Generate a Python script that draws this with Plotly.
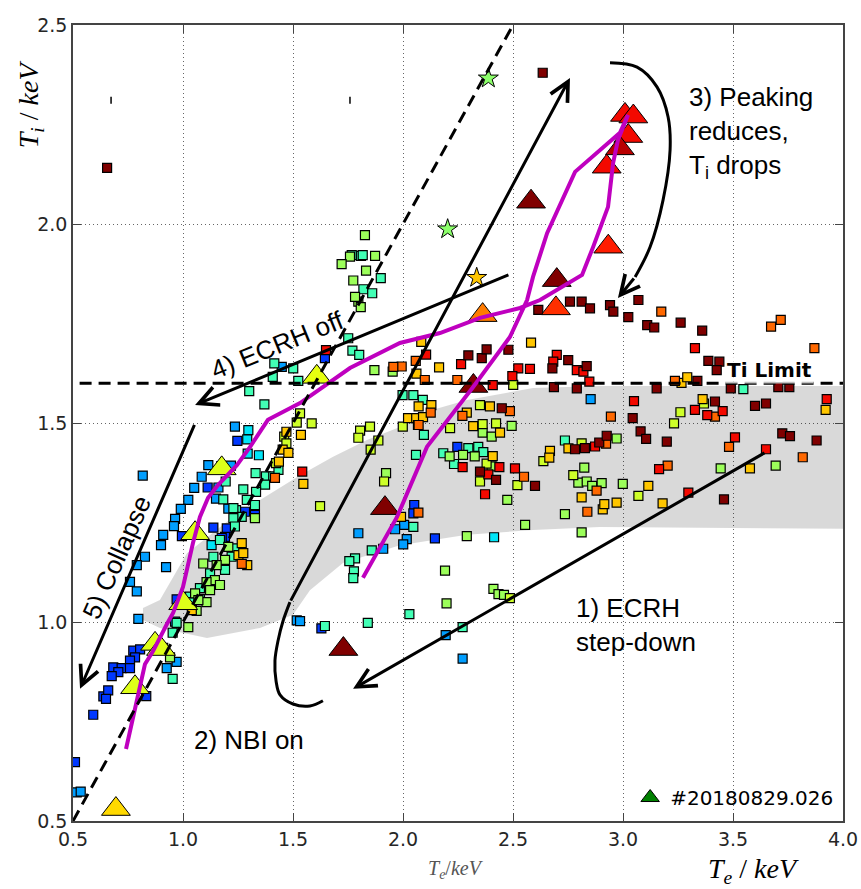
import numpy as np
import plotly.graph_objects as go

# ---------------- data (Te, Ti in keV) ----------------
SQ_BLUE_TE = [1.645,1.247,1.112,0.995,1.282,1.327,1.199,1.191,1.138,0.971,0.774,0.805,0.782,0.759,0.683,0.721,0.706,0.759,0.676,0.638,0.660,0.650,0.592,0.509,0.833,2.051,2.047,2.145,2.247,1.629,1.176]
SQ_BLUE_TI = [1.663,1.455,1.338,1.216,1.277,1.269,1.235,1.214,1.237,1.057,0.928,0.931,0.911,0.903,0.886,0.884,0.874,0.884,0.864,0.813,0.828,0.807,0.767,0.648,0.814,1.294,1.273,1.210,1.440,0.984,1.211]

SQ_LBLUE_TE = [0.817,1.236,1.085,1.051,1.024,0.990,0.964,0.959,0.910,0.900,0.923,1.161,1.150,1.206,1.173,1.218,0.964,1.517,0.797,0.790,0.517,0.535,0.926,0.971,1.532,2.194,2.271,2.005,1.964,1.797,2.017,2.001,1.910,2.853,0.827,0.790,0.759,1.115,1.449]
SQ_LBLUE_TI = [1.368,1.491,1.365,1.337,1.307,1.284,1.259,1.241,1.219,1.193,1.138,1.338,1.310,1.285,1.391,1.393,1.001,1.004,1.008,1.077,0.572,0.574,0.884,0.900,1.002,0.967,0.908,1.244,1.233,1.223,1.208,1.195,1.184,1.560,1.164,1.143,1.101,1.394,1.641]

SQ_CYAN_TE = [2.414,1.297,1.292,1.294,1.345,1.130]
SQ_CYAN_TI = [1.213,1.482,1.459,1.423,1.419,1.193]

SQ_TURQ_TE = [1.809,1.767,1.817,1.899,1.820,1.860,1.751,1.770,1.801,1.415,
              1.501,1.408,1.524,1.301,1.370,1.998,2.047,2.090,1.194,1.183,
              1.241,1.274,1.330,1.377,1.410,1.373,1.434,1.332,1.290,1.327,
              1.229,1.267,1.229,1.236,1.168,1.236,1.221,1.138,1.191,1.123,
              1.077,1.032,1.040,1.077,0.971,0.953,0.910,0.953,1.645,1.840,
              2.029,2.271,2.095,2.059,2.183,2.297,2.342,2.365,2.232,2.047,
              1.858,1.782,1.756,1.777,1.774,3.547,2.736]
SQ_TURQ_TI = [1.920,1.922,1.922,1.864,1.836,1.826,1.713,1.682,1.671,1.650,
              1.637,1.616,1.606,1.580,1.547,1.570,1.570,1.558,1.353,1.308,
              1.281,1.333,1.374,1.366,1.366,1.345,1.382,1.327,1.307,1.294,
              1.286,1.264,1.261,1.240,1.206,1.185,1.164,1.164,1.131,1.122,
              1.085,1.064,1.050,1.058,0.998,0.973,0.935,0.857,0.990,0.998,
              1.020,0.987,1.470,1.420,1.424,1.437,1.440,1.427,1.397,1.239,
              1.180,1.160,1.153,1.127,1.110,1.585,1.456]

SQ_GREEN_TE = [1.827,1.759,1.721,1.873,1.832,1.774,1.797,1.808,1.782,1.870,
               1.953,1.327,1.206,1.191,1.153,1.092,1.145,1.107,1.168,1.123,
               1.055,1.107,1.070,1.062,1.024,0.941,2.198,2.411,2.434,2.459,
               2.362,2.403,2.494,2.212,2.273,2.326,2.403,2.474,2.555,2.290,
               2.191,1.923,2.971,2.824,2.797,2.835,2.860,2.903,2.736,2.999,
               3.444,3.694,2.812]
SQ_GREEN_TI = [1.972,1.918,1.899,1.920,1.883,1.858,1.805,1.791,1.817,1.633,
               1.629,1.261,1.189,1.156,1.143,1.147,1.105,1.100,1.093,1.080,
               1.072,1.050,1.055,1.028,0.987,0.911,1.047,1.083,1.070,1.068,
               1.476,1.466,1.493,1.416,1.420,1.416,1.391,1.307,1.244,1.216,
               1.129,1.374,1.461,1.388,1.350,1.353,1.342,1.349,1.271,1.347,
               1.386,1.393,1.225]

SQ_YGREEN_TE = [1.532,1.585,1.517,1.460,1.470,1.423,1.623,2.501,1.850,1.805,
                1.797,1.888,1.853,1.999,2.214,2.362,2.350,2.423,2.520,2.350,
                1.914,2.486,2.774,2.812,3.070,3.261,3.232,3.368,2.638,2.380,
                1.009]
SQ_YGREEN_TI = [1.524,1.499,1.501,1.466,1.449,1.399,1.291,1.596,1.491,1.481,
                1.463,1.456,1.433,1.491,1.487,1.497,1.545,1.499,1.344,1.353,
                1.353,1.060,1.369,1.449,1.317,1.527,1.499,1.549,1.404,1.398,
                1.043]

SQ_YELLOW_TE = [1.436,1.453,1.479,1.536,1.470,1.267,1.252,1.274,1.292,1.547,
                2.083,2.061,2.164,2.071,2.129,2.023,2.060,2.091,2.068,2.319,
                2.395,2.290,2.441,2.582,2.408,1.991,3.266,3.292,3.362,2.752,
                2.812,2.908,2.915,2.971,3.115,3.180,3.577,3.921,2.668,2.665,
                1.040]
SQ_YELLOW_TI = [1.403,1.433,1.425,1.470,1.478,1.198,1.168,1.173,1.143,1.347,
                1.704,1.624,1.640,1.542,1.545,1.512,1.512,1.515,1.495,1.492,
                1.542,1.526,1.476,1.702,1.417,1.264,1.601,1.615,1.560,1.436,
                1.313,1.283,1.296,1.300,1.342,1.298,1.386,1.533,1.430,1.413,
                1.030]

SQ_ORANGE_TE = [1.994,1.956,1.418,1.267,2.058,2.099,2.126,2.071,2.247,2.270,
                2.486,2.550,2.070,3.174,3.673,3.717,3.236,3.418,3.482,2.923,
                2.880,2.838,3.203,3.817,2.945,3.870]
SQ_ORANGE_TI = [1.642,1.641,1.362,1.146,1.656,1.608,1.526,1.495,1.608,1.518,
                1.530,1.365,1.275,1.780,1.742,1.759,1.606,1.516,1.440,1.448,
                1.330,1.277,1.393,1.414,1.516,1.688]

SQ_RED_TE = [1.650,2.105,2.264,2.408,2.524,2.577,2.497,2.699,2.683,2.790,
             2.820,2.847,3.327,3.050,3.327,3.383,3.453,3.509,2.873,3.164,
             3.297,3.650,3.926,2.271,2.438,2.388,2.509,2.373,1.542]
SQ_RED_TI = [1.683,1.672,1.648,1.595,1.637,1.636,1.618,1.671,1.654,1.633,
             1.629,1.604,1.688,1.555,1.533,1.520,1.530,1.464,1.441,1.384,
             1.325,1.434,1.560,1.389,1.389,1.371,1.386,1.321,1.378]

SQ_DRED_TE = [0.655,2.635,2.297,2.358,2.380,2.479,2.615,2.759,2.812,2.850,
              2.941,2.956,3.070,3.024,3.110,3.142,3.262,3.360,2.751,2.835,
              2.679,2.686,2.790,3.153,3.338,3.388,3.438,3.426,3.490,3.706,
              3.756,3.044,3.418,3.600,3.650,2.782,2.827,2.892,2.926,3.080,
              3.105,3.199,3.724,3.759,3.880,3.459,2.350,2.423,2.600,2.449]
SQ_DRED_TI = [2.141,2.380,1.670,1.663,1.685,1.684,1.784,1.805,1.805,1.788,
              1.796,1.780,1.809,1.766,1.746,1.740,1.752,1.732,1.658,1.643,
              1.637,1.590,1.587,1.587,1.606,1.656,1.654,1.633,1.587,1.590,
              1.590,1.512,1.554,1.543,1.549,1.434,1.437,1.451,1.468,1.479,
              1.460,1.453,1.474,1.467,1.456,1.308,1.378,1.357,1.342,1.537]

# colour value (jet) of each square group
SQ_GROUPS = [
    (SQ_BLUE_TE, SQ_BLUE_TI, 0.18),
    (SQ_LBLUE_TE, SQ_LBLUE_TI, 0.28),
    (SQ_CYAN_TE, SQ_CYAN_TI, 0.35),
    (SQ_TURQ_TE, SQ_TURQ_TI, 0.43),
    (SQ_GREEN_TE, SQ_GREEN_TI, 0.54),
    (SQ_YGREEN_TE, SQ_YGREEN_TI, 0.60),
    (SQ_YELLOW_TE, SQ_YELLOW_TI, 0.70),
    (SQ_ORANGE_TE, SQ_ORANGE_TI, 0.80),
    (SQ_RED_TE, SQ_RED_TI, 0.90),
    (SQ_DRED_TE, SQ_DRED_TI, 1.00),
]

STAR_TE = [2.388, 2.203, 2.335]
STAR_TI = [2.366, 1.987, 1.865]
STAR_C = [0.52, 0.52, 0.70]

TRI_TE = [3.009,3.047,3.024,2.986,2.926,2.933,2.699,2.582,2.695,2.362,2.320,1.918,1.729,1.608,1.176,1.055,1.001,0.873,0.900,0.782,0.695]
TRI_TI = [2.274,2.270,2.221,2.190,2.144,1.943,1.859,2.056,1.788,1.771,1.593,1.286,0.932,1.616,1.386,1.223,1.047,0.945,0.932,0.836,0.530]
TRI_C  = [0.90,0.90,0.90,0.95,0.90,0.88,1.00,1.00,0.86,0.78,1.00,1.00,1.00,0.63,0.62,0.62,0.62,0.62,0.62,0.62,0.68]

MARK_TE = [0.673, 1.759]
MARK_TI = [2.311, 2.311]

# magenta trajectory
TRAJ_TE = [1.818,1.973,2.109,2.318,2.486,2.564,2.591,2.655,2.782,2.986,3.023,
           2.977,2.955,2.932,2.864,2.814,2.623,2.532,2.350,2.168,1.986,1.759,
           1.532,1.386,1.305,1.245,1.159,1.114,1.077,1.045,1.000,0.955,0.927,
           0.864,0.827,0.791,0.741]
TRAJ_TI = [1.111,1.264,1.440,1.590,1.716,1.809,1.867,1.977,2.131,2.229,2.274,
           2.211,2.153,2.043,1.942,1.872,1.809,1.789,1.764,1.726,1.701,1.638,
           1.550,1.508,1.440,1.394,1.344,1.312,1.264,1.198,1.088,1.023,0.995,
           0.927,0.894,0.807,0.681]

# grey band
BAND_TE = [0.818,0.895,1.018,1.227,1.532,1.682,1.836,1.986,2.136,2.291,2.591,2.895,4.0,
           4.0,2.895,2.591,2.291,1.986,1.727,1.577,1.500,1.350,1.109,0.895,0.818]
BAND_TI = [1.035,1.055,1.173,1.264,1.369,1.415,1.457,1.490,1.533,1.558,1.588,1.593,1.593,
           1.234,1.239,1.231,1.219,1.193,1.148,1.080,1.018,0.985,0.960,0.985,1.005]

TI_LIMIT = 1.6
LIMIT_TE = [0.53, 4.0]
EQ_LINE = [0.5, 2.5]

# curved arrow bodies
CURVE2_TE = [1.636,1.577,1.500,1.441,1.423,1.418,1.432,1.455,1.486]
CURVE2_TI = [0.802,0.789,0.794,0.817,0.852,0.903,0.953,1.003,1.050]
CURVE3_TE = [2.941,3.064,3.155,3.205,3.214,3.182,3.123,3.055]
CURVE3_TI = [2.405,2.394,2.344,2.269,2.186,2.060,1.942,1.867]

# arrows: (tail_te, tail_ti, head_te, head_ti)
ARROWS = [
    (3.650, 1.427, 1.773, 0.832),
    (1.486, 1.050, 2.759, 2.367),
    (3.055, 1.867, 2.977, 1.814),
    (2.486, 1.874, 1.055, 1.545),
    (1.055, 1.499, 0.532, 0.832),
]

# text labels: (text, te, ti, angle, xanchor)
LABELS = [
    ("1) ECRH<br>step-down", 2.777, 0.992, 0, "left"),
    ("2) NBI on", 1.041, 0.704, 0, "left"),
    ("3) Peaking<br>reduces,<br>T<sub>i</sub> drops", 3.291, 2.229, 0, "left"),
    ("4) ECRH off", 1.427, 1.697, -22, "center"),
    ("5) Collapse", 0.700, 1.163, -66, "center"),
]

X_TICKS = [0.5, 1.0, 1.5, 2.0, 2.5, 3.0, 3.5, 4.0]
Y_TICKS = [0.5, 1.0, 1.5, 2.0, 2.5]


def jet(v):
    r = np.interp(v, [0, 0.35, 0.66, 0.89, 1], [0, 0, 1, 1, 0.5])
    g = np.interp(v, [0, 0.125, 0.375, 0.64, 0.91, 1], [0, 0, 1, 1, 0, 0])
    b = np.interp(v, [0, 0.11, 0.34, 0.65, 1], [0.5, 1, 1, 0, 0])
    return "rgb(%d,%d,%d)" % (round(r * 255), round(g * 255), round(b * 255))


fig = go.Figure()

# grey band
fig.add_trace(go.Scatter(x=BAND_TE, y=BAND_TI, mode="lines", fill="toself",
                         fillcolor="rgba(0,0,0,0.15)", line=dict(width=0),
                         showlegend=False, hoverinfo="skip"))

# squares
for te, ti, cv in SQ_GROUPS:
    fig.add_trace(go.Scatter(x=te, y=ti, mode="markers", showlegend=False,
                             marker=dict(symbol="square", size=9, color=jet(cv),
                                         line=dict(color="black", width=1.2))))

# tiny marks
fig.add_trace(go.Scatter(x=MARK_TE, y=MARK_TI, mode="markers", showlegend=False,
                         marker=dict(symbol="line-ns", size=5,
                                     line=dict(color="black", width=1.5))))

# stars
fig.add_trace(go.Scatter(x=STAR_TE, y=STAR_TI, mode="markers", showlegend=False,
                         marker=dict(symbol="star", size=15, color=[jet(c) for c in STAR_C],
                                     line=dict(color="black", width=1))))

# triangles
fig.add_trace(go.Scatter(x=TRI_TE, y=TRI_TI, mode="markers", showlegend=False,
                         marker=dict(symbol="triangle-up", size=25, color=[jet(c) for c in TRI_C],
                                     line=dict(color="black", width=1))))

# magenta trajectory
fig.add_trace(go.Scatter(x=TRAJ_TE, y=TRAJ_TI, mode="lines", showlegend=False,
                         line=dict(color="#bf00bf", width=4)))

# dashed lines
fig.add_trace(go.Scatter(x=EQ_LINE, y=EQ_LINE, mode="lines", showlegend=False,
                         line=dict(color="black", width=3, dash="12px,7px")))
fig.add_trace(go.Scatter(x=LIMIT_TE, y=[TI_LIMIT, TI_LIMIT], mode="lines", showlegend=False,
                         line=dict(color="black", width=3, dash="12px,7px")))

# curved arrow bodies
for cx, cy in [(CURVE2_TE, CURVE2_TI), (CURVE3_TE, CURVE3_TI)]:
    fig.add_trace(go.Scatter(x=cx, y=cy, mode="lines", showlegend=False,
                             line=dict(color="black", width=3, shape="spline")))

# legend entry
fig.add_trace(go.Scatter(x=[None], y=[None], mode="markers", name="#20180829.026",
                         marker=dict(symbol="triangle-up", size=24, color="green",
                                     line=dict(color="black", width=1))))

annotations = []
for tx, ty, hx, hy in ARROWS:
    annotations.append(dict(x=hx, y=hy, ax=tx, ay=ty, xref="x", yref="y",
                            axref="x", ayref="y", text="", showarrow=True,
                            arrowhead=5, arrowsize=1.25, arrowwidth=3,
                            arrowcolor="black", standoff=0, startstandoff=0))

for text, tx, ty, ang, xa in LABELS:
    annotations.append(dict(x=tx, y=ty, xref="x", yref="y", text=text, showarrow=False,
                            textangle=ang, xanchor=xa, yanchor="middle", align="left",
                            font=dict(family="Liberation Sans", size=26, color="black")))

annotations.append(dict(x=3.668, y=1.633, xref="x", yref="y", text="<b>Ti Limit</b>",
                        showarrow=False, bgcolor="rgba(255,255,255,0.75)",
                        xanchor="center", yanchor="middle",
                        font=dict(family="DejaVu Sans", size=20, color="black")))

# axis labels
annotations.append(dict(x=-0.055, y=0.9, xref="paper", yref="paper",
                        xanchor="center", yanchor="middle",
                        text="<i>T<sub>i</sub></i> / <i>keV</i>", textangle=-90,
                        showarrow=False,
                        font=dict(family="Liberation Serif", size=28, color="black")))
annotations.append(dict(x=0.884, y=-0.062, xref="paper", yref="paper",
                        xanchor="center", yanchor="middle",
                        text="<i>T<sub>e</sub></i> / <i>keV</i>",
                        showarrow=False,
                        font=dict(family="Liberation Serif", size=28, color="black")))
annotations.append(dict(x=0.497, y=-0.0615, xref="paper", yref="paper",
                        xanchor="center", yanchor="middle",
                        text="<i>T<sub>e</sub></i>/<i>keV</i>",
                        showarrow=False,
                        font=dict(family="Liberation Serif", size=20, color="#555555")))

axis_common = dict(showgrid=True, gridcolor="rgba(0,0,0,0.6)", griddash="1px,3px",
                   gridwidth=1, zeroline=False, showline=True, linecolor="#444444",
                   linewidth=1.5, mirror="ticks", ticks="inside", ticklen=8,
                   tickcolor="#444444", tickwidth=1.2, tickformat=".1f",
                   automargin=False,
                   tickfont=dict(family="DejaVu Sans", size=19, color="#262626"))

fig.update_layout(
    width=861, height=889,
    margin=dict(l=73, r=18, t=25, b=68),
    paper_bgcolor="white", plot_bgcolor="white",
    xaxis=dict(range=[0.5, 4.0], tickvals=X_TICKS, **axis_common),
    yaxis=dict(range=[0.5, 2.5], tickvals=Y_TICKS, **axis_common),
    showlegend=True,
    legend=dict(x=0.995, y=0.005, xanchor="right", yanchor="bottom",
                bgcolor="rgba(0,0,0,0)", borderwidth=0,
                font=dict(family="DejaVu Sans", size=20, color="black")),
    annotations=annotations,
)

fig.write_html("out.html")
